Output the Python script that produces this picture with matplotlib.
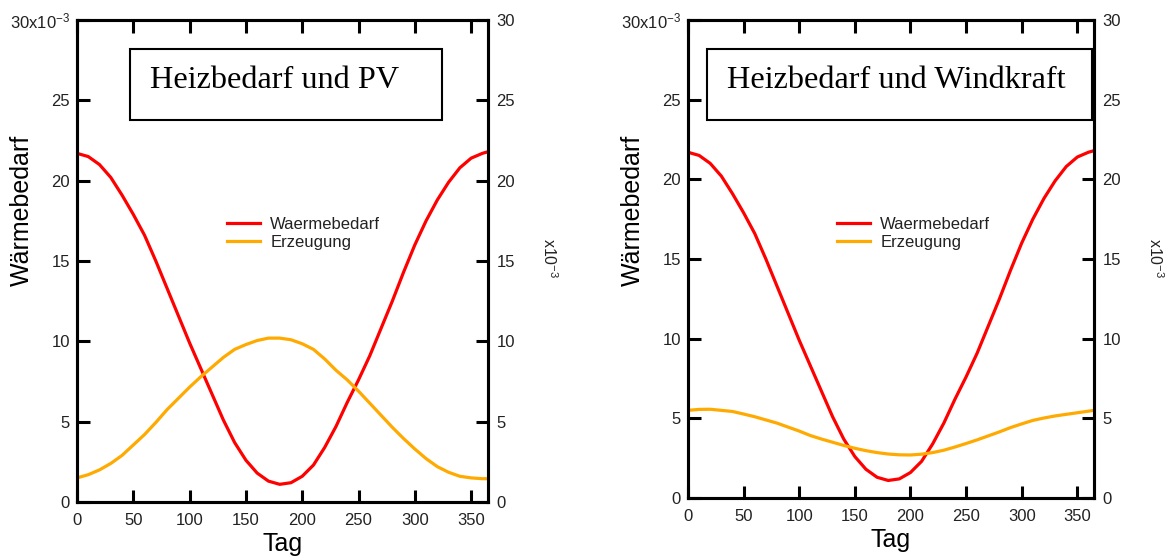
import matplotlib
matplotlib.use("Agg")
import matplotlib.pyplot as plt
from matplotlib.patches import Rectangle

plt.rcParams['font.family'] = ['Liberation Sans', 'DejaVu Sans']
plt.rcParams['mathtext.fontset'] = 'custom'
plt.rcParams['mathtext.rm'] = 'Liberation Sans'
plt.rcParams['mathtext.it'] = 'Liberation Sans'
plt.rcParams['mathtext.default'] = 'rm'

# Tage im Jahr
tage = [0, 10, 20, 30, 40, 50, 60, 70, 80, 90, 100, 110, 120, 130, 140, 150,
        160, 170, 180, 190, 200, 210, 220, 230, 240, 250, 260, 270, 280, 290,
        300, 310, 320, 330, 340, 350, 360, 365]

# Wärmebedarf (x10^-3)
waermebedarf = [21.7, 21.5, 21.0, 20.2, 19.1, 17.9, 16.6, 15.0, 13.3, 11.6,
                9.9, 8.3, 6.7, 5.1, 3.7, 2.6, 1.8, 1.3, 1.1, 1.2, 1.6, 2.3,
                3.4, 4.7, 6.2, 7.6, 9.1, 10.8, 12.5, 14.3, 16.0, 17.5, 18.8,
                19.9, 20.8, 21.4, 21.7, 21.8]

# Erzeugung Photovoltaik (x10^-3)
erzeugung_pv = [1.5, 1.7, 2.0, 2.4, 2.9, 3.55, 4.2, 4.95, 5.75, 6.45, 7.15,
                7.8, 8.4, 9.0, 9.5, 9.8, 10.05, 10.2, 10.2, 10.1, 9.85, 9.5,
                8.9, 8.2, 7.6, 6.9, 6.15, 5.4, 4.65, 3.95, 3.3, 2.7, 2.2,
                1.85, 1.6, 1.5, 1.45, 1.45]

# Erzeugung Windkraft (x10^-3)
erzeugung_wind = [5.5, 5.56, 5.57, 5.5, 5.43, 5.27, 5.1, 4.9, 4.7, 4.45, 4.2,
                  3.92, 3.7, 3.5, 3.3, 3.12, 2.97, 2.85, 2.76, 2.71, 2.7,
                  2.75, 2.85, 3.0, 3.2, 3.42, 3.65, 3.9, 4.15, 4.42, 4.65,
                  4.87, 5.02, 5.15, 5.25, 5.35, 5.45, 5.5]

x_ticks = [0, 50, 100, 150, 200, 250, 300, 350]
y_ticks = [0, 5, 10, 15, 20, 25, 30]
y_labels_left = ['0', '5', '10', '15', '20', '25', '30x10$^{-3}$']
y_labels_right = ['0', '5', '10', '15', '20', '25', '30']

titel = ['Heizbedarf und PV', 'Heizbedarf und Windkraft']
W, H = 1175, 560

fig = plt.figure(figsize=(W / 100, H / 100), dpi=100)

panels = [
    # (left px, right px, top px, bottom px, box left, box right, title x,
    #  legend x, erzeugung)
    (77, 488, 20, 502, 130, 442, 150, 227, erzeugung_pv),
    (688, 1094, 20, 498, 707, 1092, 727, 837, erzeugung_wind),
]

RED = '#ff0000'
ORANGE = '#ffaa00'
TXT = '#222222'

for i, (l, r, t, b, bl, br, tx, lx, erz) in enumerate(panels):
    ax = fig.add_axes([l / W, 1 - b / H, (r - l) / W, (b - t) / H])
    ax.plot(tage, waermebedarf, color=RED, lw=2.3, label='Waermebedarf')
    ax.plot(tage, erz, color=ORANGE, lw=2.3, label='Erzeugung')
    ax.set_xlim(0, 365)
    ax.set_ylim(0, 30)
    ax.set_xticks(x_ticks)
    ax.set_yticks(y_ticks)
    ax.set_yticklabels(y_labels_left)
    ax.tick_params(direction='in', length=9, width=2.2, top=True,
                   labelsize=12, labelcolor=TXT)
    ax.tick_params(axis='x', pad=8)
    ax.tick_params(axis='y', pad=5)
    for s in ax.spines.values():
        s.set_linewidth(2.2)

    ax2 = ax.twinx()
    ax2.set_ylim(0, 30)
    ax2.set_yticks(y_ticks)
    ax2.set_yticklabels(y_labels_right)
    ax2.tick_params(direction='in', length=9, width=2.2, labelsize=12,
                    labelcolor=TXT, pad=6)
    for s in ax2.spines.values():
        s.set_linewidth(2.2)

    ax.set_xlabel('Tag', fontsize=18, labelpad=3)

    fig.text((l - 55) / W, 1 - 210 / H, 'Wärmebedarf', rotation=90,
             fontsize=18, ha='center', va='center')
    fig.text((r + 61) / W, 1 - 258 / H, 'x10$^{-3}$', rotation=-90,
             fontsize=11.5, color=TXT, ha='center', va='center')

    leg = ax.legend(loc='upper left',
                    bbox_to_anchor=((lx - l) / (r - l), (b - 217) / (b - t)),
                    frameon=False, fontsize=12, handlelength=2.0,
                    handletextpad=0.6, labelspacing=0.2, borderpad=0,
                    borderaxespad=0)
    for txt in leg.get_texts():
        txt.set_color(TXT)

    bx0 = (bl - l) / (r - l)
    bx1 = (br - l) / (r - l)
    by0 = (b - 120) / (b - t)
    by1 = (b - 49) / (b - t)
    ax2.add_patch(Rectangle((bx0, by0), bx1 - bx0, by1 - by0,
                            transform=ax.transAxes, facecolor='white',
                            edgecolor='black', lw=1.5, zorder=5))
    ax2.text((tx - l) / (r - l), (b - 80) / (b - t), titel[i],
             transform=ax.transAxes, fontsize=23.2, family='Liberation Serif',
             ha='left', va='center', zorder=6)

fig.savefig('out.png', dpi=100)
